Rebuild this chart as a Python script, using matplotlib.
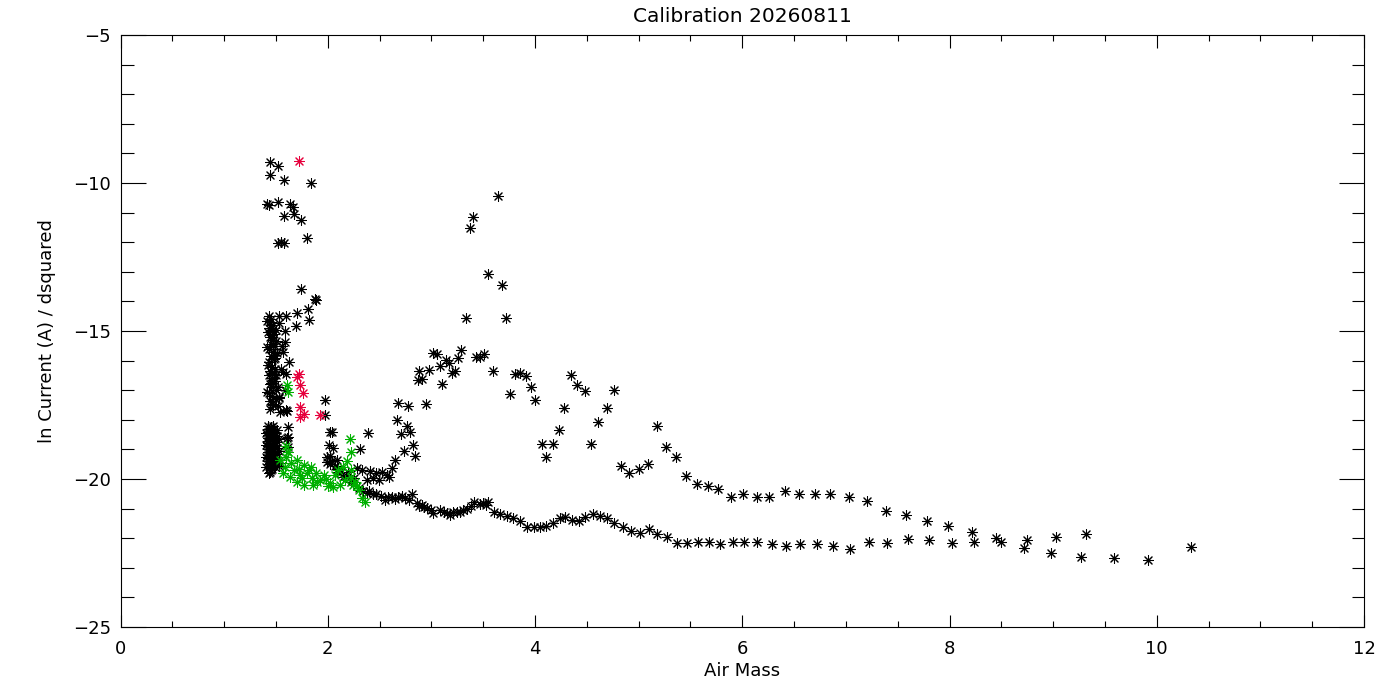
import numpy as np
import matplotlib
matplotlib.use('Agg')
import matplotlib.pyplot as plt

# Плотная вертикальная колонка у x ~ 1.45
col_x = [1.43, 1.45, 1.44, 1.47, 1.43, 1.46, 1.48, 1.44, 1.47, 1.50, 1.45, 1.49, 1.43, 1.47, 1.51, 1.45,
         1.48, 1.43, 1.46, 1.44, 1.43, 1.46, 1.49, 1.44, 1.47, 1.50, 1.43, 1.46, 1.44, 1.47, 1.52, 1.44,
         1.42, 1.47, 1.42, 1.47, 1.51, 1.42, 1.47, 1.42, 1.47, 1.51, 1.42, 1.47, 1.42, 1.47, 1.51, 1.42,
         1.47, 1.42, 1.47, 1.51, 1.42, 1.47, 1.42, 1.47, 1.51, 1.42, 1.47, 1.42, 1.47, 1.51, 1.42, 1.47,
         1.42, 1.47, 1.44, 1.46, 1.43,
         1.45, 1.40, 1.49, 1.53, 1.44, 1.40, 1.49, 1.53, 1.45, 1.40, 1.49, 1.53, 1.44, 1.40, 1.49, 1.53,
         1.45, 1.41, 1.50, 1.46, 1.41, 1.49, 1.42, 1.48, 1.45, 1.41, 1.50, 1.46, 1.42, 1.49]
col_y = [-14.5, -14.6, -14.7, -14.8, -14.9, -15.0, -15.1, -15.2, -15.3, -15.35, -15.45, -15.5, -15.6, -15.7,
         -15.75, -15.85, -15.95, -16.05, -16.2, -16.35, -16.5, -16.6, -16.7, -16.8, -16.9, -17.0, -17.1,
         -17.2, -17.35, -17.5, -17.55, -17.65,
         -18.2, -18.2, -18.3, -18.3, -18.35, -18.4, -18.4, -18.5, -18.5, -18.55, -18.6, -18.6, -18.7, -18.7,
         -18.75, -18.8, -18.8, -18.9, -18.9, -18.95, -19.0, -19.0, -19.1, -19.1, -19.15, -19.2, -19.2, -19.3,
         -19.3, -19.35, -19.4, -19.4, -19.5, -19.5, -19.75, -19.65, -19.8,
         -18.25, -18.45, -18.45, -18.65, -18.65, -18.85, -18.85, -19.05, -19.05, -19.25, -19.25, -19.45,
         -19.45, -19.6, -19.6, -19.55, -19.7, -14.65, -14.95, -15.15, -15.55, -15.9, -16.15, -16.45, -16.75,
         -17.05, -17.3, -17.45, -15.05, -16.3]

# Верхний левый кластер
ul_x = [1.44, 1.52, 1.44, 1.58, 1.84, 1.41, 1.43, 1.52, 1.64, 1.66, 1.58, 1.67, 1.74, 1.52, 1.55, 1.58, 1.80,
        1.74, 1.88, 1.89, 1.81, 1.82, 1.70, 1.60, 1.53, 1.69, 1.53, 1.59]
ul_y = [-9.30, -9.44, -9.73, -9.91, -10.00, -10.70, -10.75, -10.64, -10.71, -10.80, -11.13, -11.05, -11.26,
        -12.02, -11.98, -12.03, -11.87, -13.59, -13.92, -13.96, -14.27, -14.64, -14.40, -14.48, -14.48,
        -14.82, -14.72, -15.00]

# Разброс справа от колонки и в середине
mid_x = [1.59, 1.57, 1.63, 1.57, 1.50, 1.52, 1.53, 1.61, 1.62, 1.61, 1.62, 1.56, 1.55, 1.60, 1.59, 1.53, 1.54,
         1.60, 1.62, 1.97, 1.97, 2.02, 2.01, 2.05, 2.39, 2.31, 2.02, 2.09, 1.99, 2.04,
         1.99, 2.04, 2.07, 2.10, 2.02, 2.13, 2.18, 2.22, 2.25, 2.20, 2.09, 2.15, 2.23,
         2.28, 2.33, 2.41, 2.47, 2.52, 2.57, 2.44, 2.38, 2.49, 2.59, 2.62, 2.65, 2.30, 2.34]
mid_y = [-15.36, -15.70, -16.06, -16.37, -16.49, -16.88, -17.27, -17.69, -18.23, -18.62, -18.91, -15.50, -16.30,
         -16.45, -17.00, -17.24, -17.73, -17.67, -18.57, -17.33, -17.84, -18.40, -18.85, -18.96, -18.44, -19.00,
         -19.22, -19.36, -19.41, -18.42,
         -19.25, -19.40, -19.55, -19.65, -19.50, -19.75, -19.88, -20.09, -19.95, -19.78, -19.75, -19.92, -20.03,
         -19.64, -19.70, -19.72, -19.79, -19.75, -19.86, -19.98, -20.03, -20.03, -19.94, -19.64, -19.36,
         -20.30, -20.40]

# Горб (верхняя ветвь от 2.7 до 4.8)
bump_x = [2.68, 2.77, 2.95, 2.67, 2.76, 2.79, 2.71, 2.82, 2.74, 2.84, 2.87, 2.91, 2.88, 2.98, 3.10, 3.02, 3.05,
          3.08, 3.14, 3.17, 3.20, 3.23, 3.26, 3.29, 3.33, 3.37, 3.40, 3.43, 3.47, 3.51, 3.55, 3.59, 3.64, 3.68,
          3.72, 3.76, 3.81, 3.86, 3.91, 3.96, 4.00, 4.07, 4.11, 4.17, 4.23, 4.28, 4.35, 4.41, 4.48, 4.54, 4.61,
          4.69, 4.76]
bump_y = [-17.42, -17.53, -17.47, -18.00, -18.21, -18.40, -18.48, -18.85, -19.04, -19.21, -16.66, -16.63,
          -16.34, -16.32, -16.79, -15.73, -15.78, -16.17, -15.98, -16.09, -16.41, -16.34, -15.92, -15.64,
          -14.56, -11.53, -11.16, -15.89, -15.87, -15.78, -13.07, -16.35, -10.44, -13.46, -14.56, -17.13,
          -16.46, -16.43, -16.52, -16.90, -17.33, -18.83, -19.27, -18.83, -18.34, -17.61, -16.49, -16.82,
          -17.03, -18.83, -18.08, -17.61, -17.00]

# Верхний хвост
up_x = [4.83, 4.91, 5.00, 5.09, 5.18, 5.26, 5.36, 5.46, 5.56, 5.67, 5.77, 5.89, 6.01, 6.14, 6.26, 6.41, 6.55,
        6.70, 6.85, 7.03, 7.20, 7.39, 7.58, 7.78, 7.99, 8.22, 8.45, 8.75, 9.03, 9.32]
up_y = [-19.56, -19.79, -19.67, -19.49, -18.21, -18.93, -19.27, -19.90, -20.18, -20.24, -20.35, -20.60, -20.52,
        -20.60, -20.60, -20.41, -20.52, -20.52, -20.52, -20.62, -20.74, -21.07, -21.22, -21.42, -21.59, -21.78,
        -21.98, -22.06, -21.97, -21.87]

# Нижняя ветвь
low_x = [2.38, 2.44, 2.51, 2.55, 2.62, 2.68, 2.75, 2.81, 2.86, 2.91, 2.96, 3.02, 3.08, 3.15, 3.21, 3.28, 3.34,
         3.41, 3.47, 3.55, 3.60, 3.66, 3.73, 3.79, 3.86, 3.92, 3.99, 4.05, 4.11, 4.17, 4.24, 4.29, 4.36, 4.42,
         4.48, 4.56, 4.63, 4.69, 4.76, 4.85, 4.93, 5.01, 5.10, 5.18, 5.27, 5.37, 5.47, 5.57, 5.68, 5.79, 5.91,
         6.02, 6.14, 6.29, 6.42, 6.56, 6.72, 6.88, 7.04, 7.22, 7.40, 7.60, 7.80, 8.02, 8.24, 8.50, 8.72, 8.98,
         9.27, 9.59, 9.92, 10.33,
         2.40, 2.47, 2.58, 2.65, 2.72, 2.78, 2.88, 2.93, 3.00, 3.12, 3.18, 3.25, 3.31, 3.38, 3.50, 3.53]
low_y = [-20.46, -20.51, -20.56, -20.71, -20.60, -20.60, -20.65, -20.51, -20.82, -20.88, -20.99, -21.14, -21.05,
         -21.16, -21.10, -21.10, -21.02, -20.77, -20.84, -20.77, -21.10, -21.18, -21.25, -21.33, -21.41, -21.61,
         -21.61, -21.61, -21.59, -21.50, -21.33, -21.27, -21.39, -21.42, -21.30, -21.18, -21.24, -21.33, -21.50,
         -21.63, -21.75, -21.83, -21.70, -21.86, -21.95, -22.17, -22.17, -22.14, -22.14, -22.21, -22.14, -22.14,
         -22.14, -22.20, -22.25, -22.20, -22.20, -22.25, -22.36, -22.14, -22.17, -22.04, -22.06, -22.17, -22.14,
         -22.14, -22.34, -22.51, -22.62, -22.68, -22.74, -22.31,
         -20.40, -20.50, -20.62, -20.66, -20.58, -20.70, -20.90, -20.95, -21.05, -21.10, -21.20, -21.12, -21.05,
         -20.90, -20.80, -20.88]

green_x = [1.61, 1.62, 2.21, 2.22, 2.19, 2.22, 1.62, 1.60, 1.70, 1.59, 1.67, 1.77, 1.80, 1.75, 1.85, 1.89, 1.93,
           1.96, 1.77, 1.86, 2.02, 2.05, 2.12, 2.17, 2.22, 2.26, 2.30, 2.33, 2.36, 1.54, 1.57, 1.64, 1.70, 2.07,
           2.10, 2.15, 1.60, 1.62, 1.65, 1.72, 1.82, 1.90, 1.98, 2.00, 1.73, 1.84, 2.24, 2.28]
green_y = [-16.82, -17.05, -18.65, -19.08, -19.38, -19.70, -19.08, -19.25, -19.36, -19.58, -19.70, -19.53, -19.81,
           -19.98, -19.98, -19.81, -20.03, -19.86, -20.20, -20.20, -20.15, -20.26, -20.20, -20.03, -19.92, -20.09,
           -20.37, -20.65, -20.77, -19.36, -19.81, -19.92, -20.09, -19.86, -19.70, -19.58, -18.90, -19.10, -19.45,
           -19.65, -19.70, -20.10, -20.00, -20.22, -19.85, -19.60, -20.20, -20.25]

red_x = [1.72, 1.72, 1.70, 1.73, 1.76, 1.73, 1.73, 1.77, 1.93]
red_y = [-9.27, -16.46, -16.54, -16.82, -17.08, -17.58, -17.89, -17.81, -17.84]

black_x = col_x + ul_x + mid_x + bump_x + up_x + low_x
black_y = col_y + ul_y + mid_y + bump_y + up_y + low_y

fig = plt.figure(figsize=(14, 7), dpi=100)
ax = fig.add_axes([120.5 / 1400, 1 - 627 / 700, (1364 - 120.5) / 1400, 592 / 700])

mk = (8, 2, 0)  # звёздочка как в IDL psym=2
ms = 7.2
lw = 0.75
ax.scatter(black_x, black_y, marker=mk, s=ms ** 2, c='black', linewidths=lw)
ax.scatter(green_x, green_y, marker=mk, s=ms ** 2, c='#00b000', linewidths=lw)
ax.scatter(red_x, red_y, marker=mk, s=ms ** 2, c='#e6003c', linewidths=lw)

ax.set_xlim(0, 12)
ax.set_ylim(-25, -5)
ax.set_xticks(np.arange(0, 13, 2))
ax.set_xticks(np.arange(0, 12.01, 0.5), minor=True)
ax.set_yticks(np.arange(-25, -4, 5))
ax.set_yticks(np.arange(-25, -4.9, 1), minor=True)

ax.tick_params(axis='both', which='both', direction='in', top=True, right=True, width=0.8, colors='black')
ax.tick_params(axis='x', which='major', length=9, labelsize=13, pad=9)
ax.tick_params(axis='x', which='minor', length=4.5)
ax.tick_params(axis='y', which='major', length=18, labelsize=13, pad=7)
ax.tick_params(axis='y', which='minor', length=9)
for s in ax.spines.values():
    s.set_linewidth(0.8)

ax.set_title('Calibration 20260811', fontsize=14.5, pad=9)
ax.set_xlabel('Air Mass', fontsize=13, labelpad=3)
ax.set_ylabel('ln Current (A) / dsquared', fontsize=13, labelpad=12)

fig.savefig('out.png', dpi=100)
